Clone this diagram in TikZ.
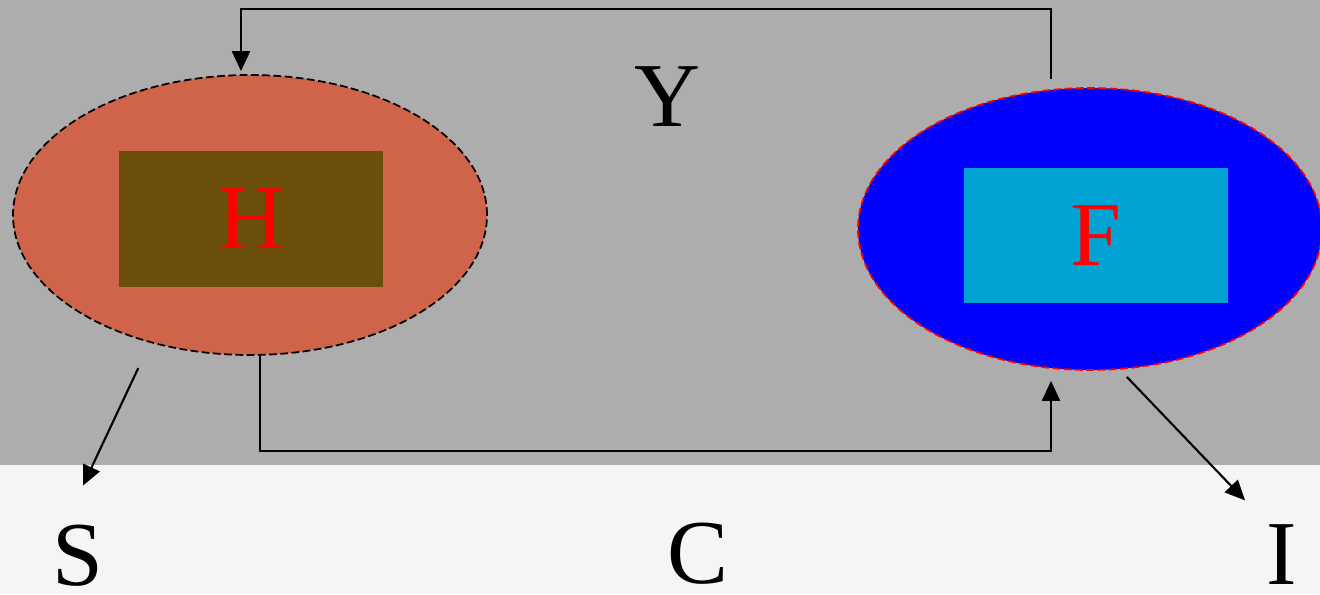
\documentclass[tikz,border=0pt]{standalone}
\usepackage{fontspec}
\setmainfont{Liberation Serif}
\usetikzlibrary{arrows.meta}
\usetikzlibrary{shapes.geometric}
\usetikzlibrary{positioning}
\definecolor{hfill}{RGB}{208,100,74}
\definecolor{hbox}{RGB}{107,78,10}
\definecolor{fbox}{RGB}{0,163,211}
\tikzstyle{arr}=[-{Triangle[length=2mm,width=1.8mm]},draw=black,line width=0.6pt]
\tikzstyle{blob}=[ellipse,inner sep=0pt,line width=0.5pt,dash pattern=on 2.2pt off 1pt]
\tikzstyle{lbl}=[font=\fontsize{26}{30}\selectfont,inner sep=0pt]

\begin{document}
\begin{tikzpicture}
    \useasboundingbox (0,0) rectangle (13.2,5.94);
    \clip (0,0) rectangle (13.2,5.94);
    \fill[black!32] (0,1.29) rectangle (13.2,5.94);
    \fill[black!4] (0,0) rectangle (13.2,1.29);
    \node[blob,draw=black,fill=hfill,minimum width=4.74cm,minimum height=2.8cm] (HE) at (2.50,3.79) {};
    \node[blob,draw=red,fill=blue,minimum width=4.64cm,minimum height=2.82cm] (FE) at (10.90,3.65) {};
    \node[rectangle,fill=hbox,minimum width=2.64cm,minimum height=1.36cm,lbl,text=red] (H) at (2.51,3.75) {H};
    \node[rectangle,fill=fbox,minimum width=2.64cm,minimum height=1.35cm,lbl,text=red] (F) at (10.96,3.585) {F};
    \node[lbl] (Y) at (6.67,4.97) {Y};
    \node[lbl] (S) at (0.78,0.38) {S};
    \node[lbl] (C) at (6.98,0.40) {C};
    \node[lbl] (I) at (12.82,0.39) {I};
    \draw[arr] ([xshift=-3.9mm,yshift=0.8mm]FE.north) -- ++(0,0.70) -| ([xshift=-0.9mm,yshift=0.3mm]HE.north);
    \draw[arr] ([xshift=1mm]HE.south) -- ++(0,-0.95) -| ([xshift=-3.9mm,yshift=-1mm]FE.south);
    \draw[arr,shorten <=2.8mm] (HE.232) -- ([xshift=0.5mm,yshift=3.9mm]S.north);
    \draw[arr,shorten <=1mm] (FE.282) -- ([xshift=-3.7mm,yshift=2.4mm]I.north);
\end{tikzpicture}
\end{document}
